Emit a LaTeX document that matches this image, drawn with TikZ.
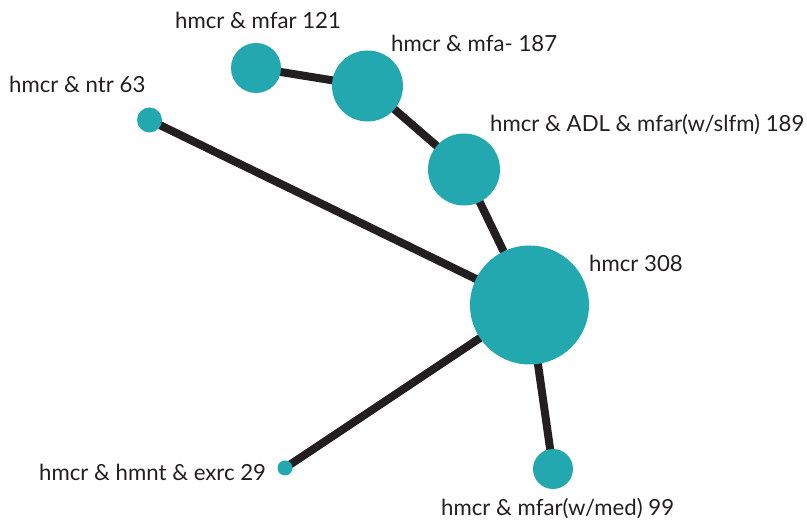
\documentclass[tikz,border=0pt]{standalone}
\usepackage{fontspec}
\setmainfont{Lato}
\usetikzlibrary{backgrounds}
\definecolor{teal1}{RGB}{35,168,176}
\definecolor{edgec}{RGB}{35,31,32}
\tikzset{
  dot/.style={circle,fill=teal1,draw=none,inner sep=0pt,minimum size=#1},
  lab/.style={anchor=base west,inner sep=0pt,font=\fontsize{22.2}{25}\selectfont,text=edgec},
  link/.style={draw=edgec,line width=8pt}
}
\begin{document}
\begin{tikzpicture}[x=1pt,y=-1pt]
\useasboundingbox (0,0) rectangle (807,521);
\node[dot=119pt] (n308) at (529.5,305) {};
\node[dot=50pt] (n121) at (256,68) {};
\node[dot=71pt] (n187) at (367.5,86) {};
\node[dot=72pt] (n189) at (464,169.5) {};
\node[dot=25pt] (n63) at (149.5,120) {};
\node[dot=15pt] (n29) at (285,468) {};
\node[dot=40pt] (n99) at (553,469) {};
\begin{pgfonlayer}{background}
\draw[link] (n121.center) -- (n187.center);
\draw[link] (n187.center) -- (n189.center);
\draw[link] (n189.center) -- (n308.center);
\draw[link] (n63.center) -- (n308.center);
\draw[link] (n29.center) -- (n308.center);
\draw[link] (n99.center) -- (n308.center);
\end{pgfonlayer}
\node[lab] (l121) at (175,29) {hmcr \& mfar 121};
\node[lab] (l187) at (391,52) {hmcr \& mfa- 187};
\node[lab] (l63) at (9,93) {hmcr \& ntr 63};
\node[lab] (l189) at (490,132) {hmcr \& ADL \& mfar(w/slfm) 189};
\node[lab] (l308) at (589,272) {hmcr 308};
\node[lab] (l29) at (39,481) {hmcr \& hmnt \& exrc 29};
\node[lab] (l99) at (441,515.5) {hmcr \& mfar(w/med) 99};
\end{tikzpicture}
\end{document}
